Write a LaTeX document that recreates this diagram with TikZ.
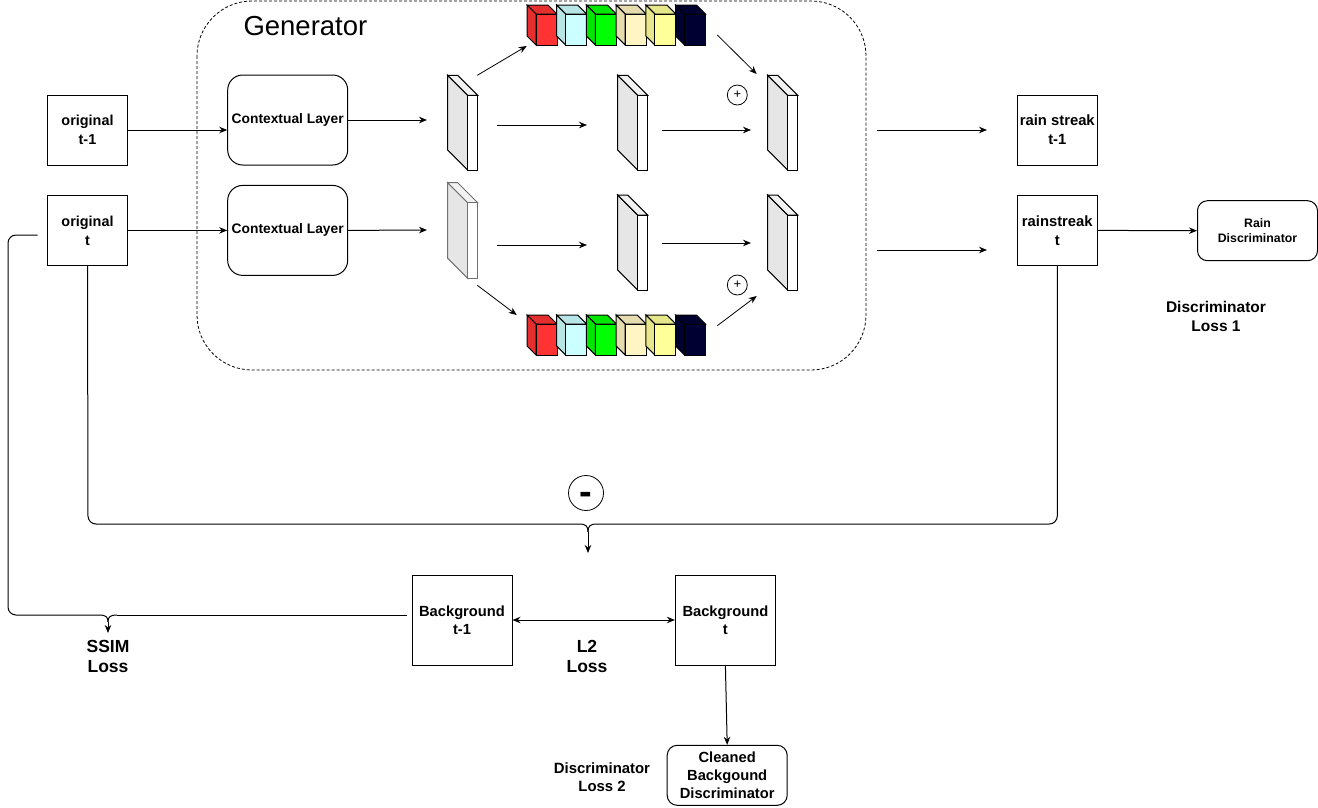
\documentclass[tikz,border=0pt]{standalone}
\usepackage{fontspec}
\setmainfont{Liberation Sans}
\usetikzlibrary{arrows.meta}
\definecolor{cubeRedF}{HTML}{FF3333}
\definecolor{cubeRedS}{HTML}{E52E2E}
\definecolor{cubeCyanF}{HTML}{CCFFFF}
\definecolor{cubeCyanS}{HTML}{B8E6E6}
\definecolor{cubeGreenF}{HTML}{00FF00}
\definecolor{cubeGreenS}{HTML}{00E600}
\definecolor{cubeCreamF}{HTML}{FFF4C3}
\definecolor{cubeCreamS}{HTML}{E6DCB0}
\definecolor{cubeYellowF}{HTML}{FFFF99}
\definecolor{cubeYellowS}{HTML}{E6E68A}
\definecolor{cubeNavyF}{HTML}{000033}
\definecolor{cubeNavyS}{HTML}{00002E}
\definecolor{slabSide}{HTML}{E6E6E6}
\definecolor{slabTop}{HTML}{F2F2F2}
\definecolor{slabGray}{HTML}{707070}
% cube: #1 back-left x, #2 back-top y, #3 front colour, #4 side colour
\newcommand\cubeblk[4]{%
  \filldraw[fill=#4] (#1,#2) -- (#1+21,#2) -- (#1+30,#2+9) -- (#1+9,#2+9) -- cycle;
  \filldraw[fill=#4] (#1,#2) -- (#1+9,#2+9) -- (#1+9,#2+40) -- (#1,#2+31) -- cycle;
  \filldraw[fill=#3] (#1+9,#2+9) rectangle (#1+30,#2+40);}
% slab: #1 front-left x, #2 front-top y, #3 bottom y, #4 stroke colour
\newcommand\slabshape[4]{%
  \filldraw[draw=#4,fill=slabSide] (#1-20,#2-20) -- (#1,#2) -- (#1,#3) -- (#1-20,#3-20) -- cycle;
  \filldraw[draw=#4,fill=slabTop] (#1-20,#2-20) -- (#1-10,#2-20) -- (#1+10,#2) -- (#1,#2) -- cycle;
  \filldraw[draw=#4,fill=white] (#1,#2) rectangle (#1+10,#3);}
\begin{document}
\begin{tikzpicture}[x=1pt,y=-1pt,line width=1pt,
  >={Stealth[length=8pt,width=6.5pt]},
  sqbox/.style={draw, rectangle, minimum width=80pt, minimum height=70pt, align=center, inner sep=0pt},
  ctxbox/.style={sqbox, rounded corners=15pt, minimum width=120pt, minimum height=90pt},
  discbox/.style={sqbox, rounded corners=10pt, minimum width=120pt, minimum height=60pt},
  bgbox/.style={sqbox, minimum width=100pt, minimum height=90pt},
  lbl/.style={align=center, inner sep=0pt},
  fOrig/.style={font=\bfseries\fontsize{14.4}{19}\selectfont},
  fCtx/.style={font=\bfseries\fontsize{13.8}{17}\selectfont},
  fRain/.style={font=\bfseries\fontsize{14.8}{18.7}\selectfont},
  fRD/.style={font=\bfseries\fontsize{12.3}{15}\selectfont},
  fBg/.style={font=\bfseries\fontsize{14.7}{18}\selectfont},
  fLoss/.style={font=\bfseries\fontsize{17.5}{20}\selectfont},
  fDL/.style={font=\bfseries\fontsize{15.5}{19}\selectfont},
  opcirc/.style={draw, circle, line width=0.8pt, inner sep=0pt, minimum size=20pt, font=\fontsize{13}{13}\selectfont}
]
\useasboundingbox (0,0) rectangle (1318,807);

% generator frame
\draw[line width=0.8pt, dash pattern=on 3pt off 2pt, rounded corners=55pt] (197,1) rectangle (866,370);
\node[anchor=base west, inner sep=0pt, font=\fontsize{27.5}{30}\selectfont] (gen) at (243,35) {Generator};

% input boxes
\node[sqbox, fOrig] (ot1) at (87.5,130) {original\\t-1};
\node[sqbox, fOrig] (ot) at (87.5,230.4) {original\\t};
\node[ctxbox, fCtx] (ct1) at (287.7,120) {Contextual Layer};
\node[ctxbox, fCtx] (ct) at (287.7,230.4) {Contextual Layer};

% output boxes
\node[sqbox, fRain] (rs1) at (1057.3,130) {rain streak\\t-1};
\node[sqbox, fRain] (rs) at (1057.3,230.4) {rainstreak\\t};
\node[discbox, fRD] (rd) at (1257.5,230.7) {Rain\\Discriminator};
\node[lbl, fDL] (dl1) at (1216,316.5) {Discriminator\\Loss 1};

% background boxes
\node[bgbox, fBg] (bg1) at (462,620) {Background\\t-1};
\node[bgbox, fBg] (bg) at (725.4,620) {Background\\t};
\node[discbox, fBg] (cbd) at (727.2,775.3) {Cleaned\\Backgound\\Discriminator};
\node[lbl, font=\bfseries\fontsize{14.9}{18}\selectfont] (dl2) at (602,777) {Discriminator\\Loss 2};
\node[lbl, fLoss] (ssim) at (108,656) {SSIM\\Loss};
\node[lbl, fLoss] (l2) at (587,656) {L2\\Loss};

% slabs
\slabshape{467.7}{95.3}{170}{black}
\slabshape{637.7}{95.3}{170}{black}
\slabshape{787.7}{95.3}{170}{black}
\slabshape{467.7}{202.7}{278.3}{slabGray}
\slabshape{637.7}{215}{290}{black}
\slabshape{787.7}{215}{290}{black}

% cubes
\foreach \i/\cf/\cs in {0/cubeRedF/cubeRedS,1/cubeCyanF/cubeCyanS,2/cubeGreenF/cubeGreenS,3/cubeCreamF/cubeCreamS,4/cubeYellowF/cubeYellowS,5/cubeNavyF/cubeNavyS}{
  \cubeblk{527+29.7*\i}{5}{\cf}{\cs}
  \cubeblk{527+29.7*\i}{315}{\cf}{\cs}
}

% plus / minus circles
\node[opcirc] (p1) at (737.3,95) {+};
\node[opcirc] (p2) at (737.3,285) {+};
\node[draw, circle, line width=0.8pt, inner sep=0pt, minimum size=35pt] (mn) at (586,493)
  {\fontsize{38}{38}\bfseries\raisebox{-11.5pt}[0pt][0pt]{-}};

% coordinates for free ends
\coordinate (s1in) at (427,120);
\coordinate (s1out) at (497,125);  \coordinate (s2in) at (587,125);
\coordinate (s2out) at (661.5,130); \coordinate (s3in) at (751,130);
\coordinate (b1in) at (427,230);
\coordinate (b1out) at (497,245);  \coordinate (b2in) at (587,245);
\coordinate (b2out) at (662,243);  \coordinate (b3in) at (751,243);
\coordinate (tout1) at (877,130);  \coordinate (tout2) at (987,130);
\coordinate (bout1) at (877,250);  \coordinate (bout2) at (987,250);
\coordinate (dga) at (477.3,75.3);  \coordinate (dgb) at (526.7,46);
\coordinate (dgc) at (717.3,35);    \coordinate (dgd) at (756.7,74);
\coordinate (dge) at (477.3,285.3); \coordinate (dgf) at (516.7,315);
\coordinate (dgg) at (717.3,325.7); \coordinate (dgh) at (756.7,296);

% arrows in generator
\draw[->] (ot1.east) -- (ot1.east -| ct1.west);
\draw[->] (ot.east) -- (ct.west);
\draw[->] (ct1.east) -- (s1in);
\draw[->] (ct.east) -- (b1in);
\draw[->] (s1out) -- (s2in);
\draw[->] (s2out) -- (s3in);
\draw[->] (b1out) -- (b2in);
\draw[->] (b2out) -- (b3in);
\draw[->, line width=0.8pt] (dga) -- (dgb);
\draw[->, line width=0.8pt] (dgc) -- (dgd);
\draw[->, line width=0.8pt] (dge) -- (dgf);
\draw[->, line width=0.8pt] (dgg) -- (dgh);
\draw[->] (tout1) -- (tout2);
\draw[->] (bout1) -- (bout2);
\draw[->] (rs.east) -- (rd.west);

% subtraction bracket
\coordinate (mcl) at (88,524);
\coordinate (mcr) at (1057.3,524);
\coordinate (mnl) at (579,524);
\coordinate (mnr) at (597,524);
\coordinate (mnk) at (588,532);
\coordinate (mtip) at (588,553);
\draw[rounded corners=8pt] (ot.south) -- (mcl) -- (mnl);
\draw[rounded corners=8pt] (rs.south) -- (mcr) -- (mnr);
\draw (mnl) .. controls (586,524) and (588,526) .. (mnk);
\draw (mnr) .. controls (590,524) and (588,526) .. (mnk);
\draw[->] (mnk) -- (mtip);

% SSIM bracket
\coordinate (sst) at (37.7,235);
\coordinate (sc1) at (8,235);
\coordinate (sc2) at (8,615);
\coordinate (snl) at (99,615);
\coordinate (snr) at (117,615);
\coordinate (sre) at (407,615);
\coordinate (snk) at (108,622);
\coordinate (stip) at (108,633);
\draw[rounded corners=8pt] (sst) -- (sc1) -- (sc2) -- (snl);
\draw (sre) -- (snr);
\draw (snl) .. controls (106,615) and (108,617) .. (snk);
\draw (snr) .. controls (110,615) and (108,617) .. (snk);
\draw[->] (snk) -- (stip);

% background arrows
\draw[<->] (bg1.east) -- (bg.west);
\draw[->] (bg.south) -- (cbd.north);
\end{tikzpicture}
\end{document}
